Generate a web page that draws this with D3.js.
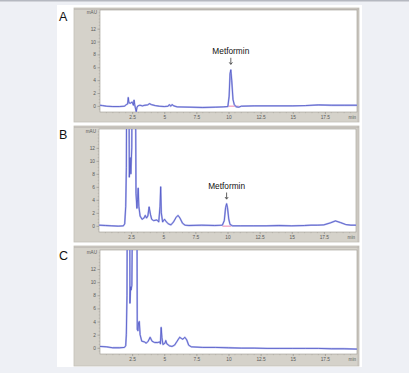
<!DOCTYPE html>
<html><head><meta charset="utf-8">
<script src="https://cdn.jsdelivr.net/npm/d3@7"></script>
<style>
html,body{margin:0;padding:0;background:#eef0f5;}
svg{display:block;font-family:"Liberation Sans",Arial,sans-serif;}
</style></head>
<body>
<svg id="c" width="409" height="373"></svg>
<script>
// ---- data ----
const panelLabels = ["A", "B", "C"];
const yTickValues = [0, 2, 4, 6, 8, 10, 12];
const xTickValues = [2.5, 5, 7.5, 10, 12.5, 15, 17.5];
const xTickLabels = ["2.5", "5", "7.5", "10", "12.5", "15", "17.5"];
const yUnit = "mAU";
const xUnit = "min";
const peakName = "Metformin";

const timeA = [0,0.2,0.5,1.0,1.5,1.9,2.05,2.15,2.2,2.25,2.35,2.5,2.6,2.65,2.7,2.75,2.82,2.88,2.95,3.1,3.3,3.5,3.7,3.85,4.0,4.3,4.6,5.0,5.3,5.4,5.5,5.6,5.75,6.0,7.0,8.0,9.0,9.6,9.95,10.05,10.12,10.18,10.25,10.35,10.45,10.6,10.8,11,12,13,14,15,16,17,18,19,20];
const valA  = [0.1,0.05,-0.05,-0.1,-0.1,-0.05,0.2,0.3,1.3,0.5,0.4,0.6,0.1,0.9,0.2,-0.3,-0.9,-0.2,0.0,0.1,0.0,0.1,0.15,0.35,0.2,0.05,-0.05,-0.1,-0.05,0.2,-0.05,0.2,0.0,-0.15,-0.2,-0.25,-0.2,-0.15,-0.1,1.5,5.0,5.6,4.0,1.0,0.2,-0.15,-0.2,-0.05,0.0,0.0,0.0,0.0,0.05,0.15,0.1,0.1,0.1];

const timeB = [0,0.5,1.0,1.5,1.9,2.0,2.08,2.13,2.18,2.3,2.36,2.42,2.48,2.55,2.62,2.8,2.88,2.95,3.0,3.05,3.1,3.2,3.35,3.5,3.6,3.7,3.8,3.9,4.0,4.1,4.25,4.5,4.65,4.75,4.8,4.85,4.95,5.1,5.25,5.4,5.6,5.8,6.0,6.15,6.3,6.5,6.7,7.0,8,9,9.6,9.75,9.85,9.93,10.0,10.1,10.2,10.4,11,12,13,14,15,16,16.5,17,17.5,18,18.4,18.8,19.2,19.6,20];
const valB  = [0.1,0.05,0.0,-0.05,0.0,0.3,3,9,40,40,7.5,10.5,8.0,12,40,40,5,2.7,4,5.8,3.0,1.5,1.0,1.2,1.6,1.2,1.5,2.9,1.8,1.0,0.8,0.9,0.6,3.0,6.0,2.0,0.6,1.0,0.6,0.3,0.15,0.6,1.3,1.6,1.2,0.4,0.1,0.05,0.1,0.05,0.1,0.8,2.8,3.4,2.8,1.0,0.2,0.0,0.0,0.0,0.0,0.05,0.0,0.05,0.1,0.1,0.15,0.45,0.75,0.5,0.2,0.1,0.1];

const timeC = [0,0.5,1.0,1.5,1.9,2.0,2.05,2.1,2.15,2.3,2.33,2.38,2.42,2.48,2.6,2.85,2.9,2.95,3.0,3.06,3.12,3.25,3.45,3.6,3.75,3.9,4.05,4.25,4.5,4.65,4.7,4.76,4.82,4.9,5.05,5.12,5.2,5.4,5.6,5.8,6.0,6.2,6.35,6.45,6.6,6.75,6.9,7.1,8,9,10,11,12,13,14,15,16,17,18,19,20];
const valC  = [0.2,0.15,0.0,0.0,0.05,0.3,2.0,8,40,40,6.8,9.3,8.8,9.5,40,40,2.8,2.6,3.8,4.0,2.0,1.0,0.9,0.7,1.0,1.6,1.0,0.8,0.8,0.9,0.6,3.1,1.5,0.5,0.7,1.1,0.6,0.3,0.2,0.4,1.0,1.6,1.4,1.3,1.6,1.2,0.4,0.15,0.05,0.05,0.0,-0.05,-0.05,-0.1,-0.1,-0.1,-0.1,-0.1,-0.15,-0.15,-0.2];

const seriesTimes = [timeA, timeB, timeC];
const seriesValues = [valA, valB, valC];
const peakTime = [10.18, 9.93, null];   // annotated Metformin peak
const integStart = [9.9, 9.6, null];
const integEnd = [10.8, 10.3, null];

// ---- layout ----
const panels = [
  {frameTop: 8,   frameBottom: 122, plotTop: 10,  plotBottom: 112, plotLeft: 100, plotRight: 357, labelY: 20.5},
  {frameTop: 126, frameBottom: 242, plotTop: 129, plotBottom: 232, plotLeft: 99,  plotRight: 356, labelY: 139},
  {frameTop: 246, frameBottom: 366, plotTop: 250, plotBottom: 354, plotLeft: 100, plotRight: 357, labelY: 260}
];

const svg = d3.select("#c");
svg.append("rect").attr("x",0).attr("y",0).attr("width",409).attr("height",373).attr("fill","#eef0f5");
svg.append("rect").attr("x",0).attr("y",0).attr("width",409).attr("height",1.5).attr("fill","#b5b8c0");
svg.append("rect").attr("x",57).attr("y",5).attr("width",305).attr("height",362).attr("fill","#ffffff");

panels.forEach((p, i) => {
  const g = svg.append("g");
  const x = d3.scaleLinear().domain([0, 20]).range([p.plotLeft, p.plotRight]);
  const y = d3.scaleLinear().domain([-0.95, 14.9]).range([p.plotBottom, p.plotTop]);

  // frame
  g.append("rect").attr("x",74).attr("y",p.frameTop).attr("width",285).attr("height",p.frameBottom-p.frameTop)
    .attr("fill","#d5d2ca").attr("stroke","#c4c0b8").attr("stroke-width",0.8);
  g.append("line").attr("x1",74).attr("x2",359).attr("y1",p.frameTop+1.2).attr("y2",p.frameTop+1.2)
    .attr("stroke","#aeaaa2").attr("stroke-width",0.6);
  g.append("line").attr("x1",358).attr("x2",358).attr("y1",p.frameTop).attr("y2",p.frameBottom)
    .attr("stroke","#b8b4ac").attr("stroke-width",0.6);
  g.append("rect").attr("x",p.plotLeft).attr("y",p.plotTop).attr("width",p.plotRight-p.plotLeft)
    .attr("height",p.plotBottom-p.plotTop).attr("fill","#ffffff").attr("stroke","#9d9991").attr("stroke-width",0.6);

  // y axis
  const yAxis = d3.axisLeft(y).tickValues(yTickValues).tickSize(2.5).tickPadding(1.5).tickFormat(d3.format("d"));
  const ya = g.append("g").attr("transform",`translate(${p.plotLeft},0)`).call(yAxis);
  ya.select(".domain").remove();
  ya.selectAll("line").attr("stroke","#8a8680").attr("stroke-width",0.6);
  ya.selectAll("text").attr("font-size",4.8).attr("fill","#5a5a5a").attr("font-family","Liberation Sans, Arial, sans-serif");
  const yMinor = d3.range(-0.5, 14.6, 0.5).filter(v => yTickValues.indexOf(v) < 0);
  g.append("g").selectAll("line").data(yMinor).join("line")
    .attr("x1",p.plotLeft-1.3).attr("x2",p.plotLeft).attr("y1",d=>y(d)).attr("y2",d=>y(d))
    .attr("stroke","#a09c96").attr("stroke-width",0.4);
  g.append("text").attr("x",p.plotLeft-3).attr("y",p.plotTop+3.5).attr("text-anchor","end")
    .attr("font-size",4.6).attr("fill","#5a5a5a").text(yUnit);

  // x axis
  const xAxis = d3.axisBottom(x).tickValues(xTickValues).tickSize(2).tickPadding(1.8)
    .tickFormat((d, k) => xTickLabels[k]);
  const xa = g.append("g").attr("transform",`translate(0,${p.plotBottom})`).call(xAxis);
  xa.select(".domain").remove();
  xa.selectAll("line").attr("stroke","#8a8680").attr("stroke-width",0.6);
  xa.selectAll("text").attr("font-size",4.8).attr("fill","#5a5a5a").attr("font-family","Liberation Sans, Arial, sans-serif");
  const xMinor = d3.range(0.5, 20, 0.5).filter(v => xTickValues.indexOf(v) < 0);
  g.append("g").selectAll("line").data(xMinor).join("line")
    .attr("x1",d=>x(d)).attr("x2",d=>x(d)).attr("y1",p.plotBottom).attr("y2",p.plotBottom+1.2)
    .attr("stroke","#a09c96").attr("stroke-width",0.4);
  g.append("text").attr("x",p.plotRight-1).attr("y",p.plotBottom+7.4).attr("text-anchor","end")
    .attr("font-size",4.6).attr("fill","#5a5a5a").text(xUnit);

  // clip
  const clipId = "clip" + i;
  svg.append("clipPath").attr("id",clipId).append("rect")
    .attr("x",p.plotLeft).attr("y",p.plotTop).attr("width",p.plotRight-p.plotLeft).attr("height",p.plotBottom-p.plotTop);

  const pts = seriesTimes[i].map((t, k) => [t, seriesValues[i][k]]);
  const line = d3.line().x(d => x(d[0])).y(d => y(d[1]));
  const lg = g.append("g").attr("clip-path",`url(#${clipId})`);

  if (integStart[i] != null) {
    lg.append("line").attr("x1",x(integStart[i])).attr("x2",x(integEnd[i]))
      .attr("y1",y(-0.05)).attr("y2",y(-0.05)).attr("stroke","#f2a6c6").attr("stroke-width",1.4);
  }
  lg.append("path").datum(pts).attr("d",line).attr("fill","none")
    .attr("stroke","#b3b7ec").attr("stroke-width",1.8).attr("stroke-linejoin","round");
  lg.append("path").datum(pts).attr("d",line).attr("fill","none")
    .attr("stroke","#4f57c6").attr("stroke-width",0.8).attr("stroke-linejoin","round");

  // panel label
  svg.append("text").attr("x",59).attr("y",p.labelY).attr("font-size",12.5).attr("fill","#111").text(panelLabels[i]);

  // annotation
  if (peakTime[i] != null) {
    const px = x(peakTime[i]);
    const topY = i === 0 ? 54 : 188.7;
    svg.append("text").attr("x",px).attr("y",topY).attr("text-anchor","middle")
      .attr("font-size",8.3).attr("fill","#111").text(peakName);
    const a1 = topY + 3.8, a2 = topY + 10.5;
    svg.append("line").attr("x1",px).attr("x2",px).attr("y1",a1).attr("y2",a2-0.5)
      .attr("stroke","#222").attr("stroke-width",0.7);
    svg.append("path").attr("d",`M${px-1.6},${a2-2.2}L${px},${a2}L${px+1.6},${a2-2.2}`)
      .attr("fill","none").attr("stroke","#222").attr("stroke-width",0.7);
  }
});
</script>
</body></html>
